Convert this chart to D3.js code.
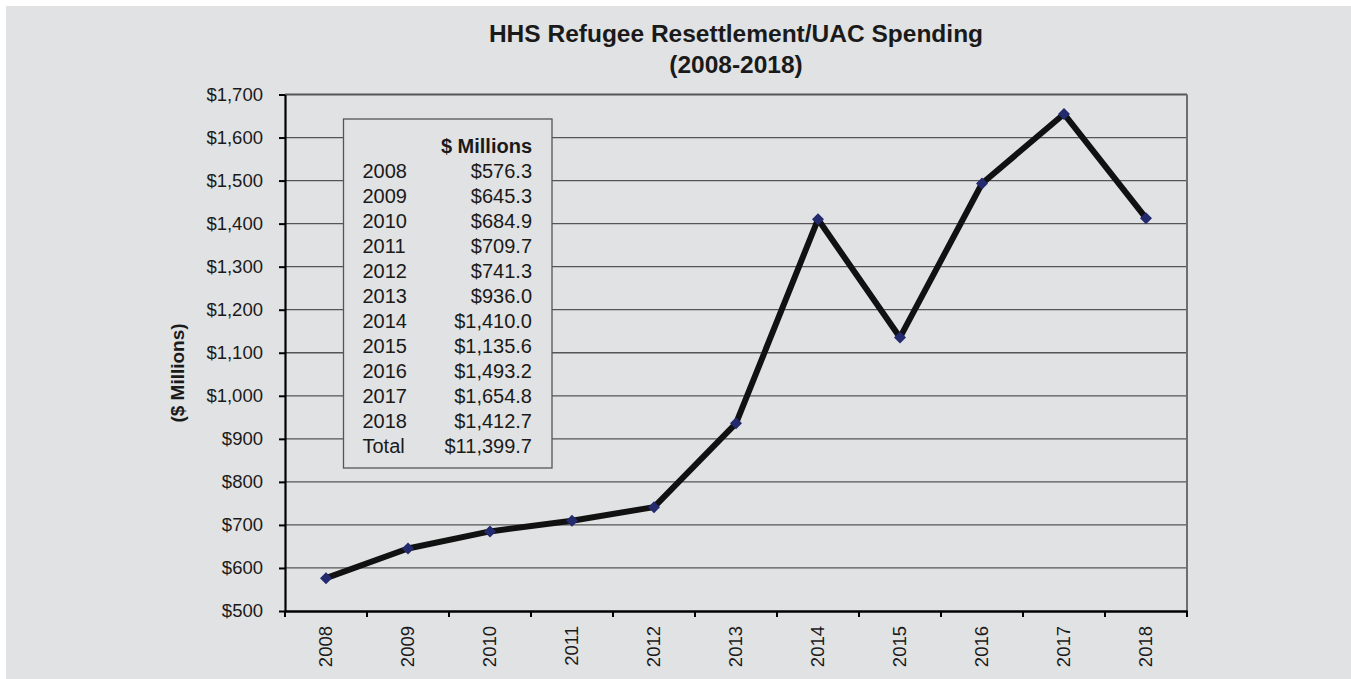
<!DOCTYPE html>
<html>
<head>
<meta charset="utf-8">
<script src="https://cdn.jsdelivr.net/npm/d3@7"></script>
<style>
  body { margin: 0; background: #fff; }
  svg text { font-family: "Liberation Sans", Arial, sans-serif; fill: #1a1a1a; }
</style>
</head>
<body>
<div id="chart"></div>
<script>
var years = ["2008", "2009", "2010", "2011", "2012", "2013", "2014", "2015", "2016", "2017", "2018"];
var spending = [576.3, 645.3, 684.9, 709.7, 741.3, 936.0, 1410.0, 1135.6, 1493.2, 1654.8, 1412.7];
var yTicks = [500, 600, 700, 800, 900, 1000, 1100, 1200, 1300, 1400, 1500, 1600, 1700];
var totalLabel = "Total";
var totalValue = 11399.7;
var tableHeader = "$ Millions";

var width = 1351, height = 679;
var margin = { left: 285, right: 164, top: 94.5, bottom: 68 };

var svg = d3.select("#chart").append("svg")
  .attr("width", width)
  .attr("height", height);

// gray panel, white strip on top and left
svg.append("rect")
  .attr("x", 6).attr("y", 6)
  .attr("width", width - 6).attr("height", height - 6)
  .attr("fill", "#e1e2e3");

var x = d3.scaleBand()
  .domain(years)
  .range([margin.left, width - margin.right]);

var y = d3.scaleLinear()
  .domain([500, 1700])
  .range([height - margin.bottom, margin.top]);

// gridlines
svg.append("g")
  .selectAll("line")
  .data(yTicks.slice(1))
  .enter().append("line")
    .attr("x1", margin.left)
    .attr("x2", width - margin.right)
    .attr("y1", function(d) { return y(d); })
    .attr("y2", function(d) { return y(d); })
    .attr("stroke", "#555")
    .attr("stroke-width", function(d) { return d == 1700 ? 2 : 1.3; });

// right border
svg.append("line")
  .attr("x1", width - margin.right).attr("x2", width - margin.right)
  .attr("y1", y(1700)).attr("y2", y(500))
  .attr("stroke", "#6e6e6e")
  .attr("stroke-width", 2);

// data table box
var box = { x: 343.5, y: 119, w: 208.5, h: 349 };
svg.append("rect")
  .attr("x", box.x).attr("y", box.y)
  .attr("width", box.w).attr("height", box.h)
  .attr("fill", "#e1e2e3")
  .attr("stroke", "#555")
  .attr("stroke-width", 1.3);

var rows = years.map(function(yr, i) { return [yr, spending[i]]; });
rows.push([totalLabel, totalValue]);
var fmtTable = d3.format("$,.1f");

var table = svg.append("g").style("font-size", "20px");
table.append("text")
  .attr("x", 532).attr("y", 153)
  .attr("text-anchor", "end")
  .style("font-weight", "bold")
  .text(tableHeader);
table.selectAll(".yr")
  .data(rows)
  .enter().append("text")
    .attr("class", "yr")
    .attr("x", 362.5)
    .attr("y", function(d, i) { return 178 + i * 25; })
    .text(function(d) { return d[0]; });
table.selectAll(".val")
  .data(rows)
  .enter().append("text")
    .attr("class", "val")
    .attr("x", 532)
    .attr("y", function(d, i) { return 178 + i * 25; })
    .attr("text-anchor", "end")
    .text(function(d) { return fmtTable(d[1]); });

// y axis
var yAxis = svg.append("g")
  .attr("transform", "translate(" + margin.left + ",0)")
  .call(d3.axisLeft(y).tickValues(yTicks).tickSize(6).tickSizeOuter(0).tickPadding(16).tickFormat(d3.format("$,")));
yAxis.select(".domain").attr("stroke", "#000").attr("stroke-width", 2.2);
yAxis.selectAll(".tick line").attr("stroke", "#000").attr("stroke-width", 2);
yAxis.selectAll("text").style("font-size", "18.5px").style("font-family", null);

// x axis
var xAxis = svg.append("g")
  .attr("transform", "translate(0," + y(500) + ")")
  .call(d3.axisBottom(x).tickSize(0).tickSizeOuter(0));
xAxis.select(".domain").attr("stroke", "#000").attr("stroke-width", 2.6);
xAxis.selectAll(".tick text")
  .style("font-size", "18.5px").style("font-family", null)
  .attr("transform", "rotate(-90)")
  .attr("x", -15).attr("y", 0).attr("dy", "0.35em")
  .attr("text-anchor", "end");

var bounds = years.map(function(d) { return x(d); }).concat([x.range()[1]]);
xAxis.selectAll(".bt")
  .data(bounds)
  .enter().append("line")
    .attr("class", "bt")
    .attr("x1", function(d) { return d; })
    .attr("x2", function(d) { return d; })
    .attr("y1", 0).attr("y2", 6)
    .attr("stroke", "#000")
    .attr("stroke-width", 2);

// line
var line = d3.line()
  .x(function(d, i) { return x(years[i]) + x.bandwidth() / 2; })
  .y(function(d) { return y(d); });

svg.append("path")
  .datum(spending)
  .attr("d", line)
  .attr("fill", "none")
  .attr("stroke", "#111")
  .attr("stroke-width", 6)
  .attr("stroke-linejoin", "round");

svg.append("g")
  .selectAll("path")
  .data(spending)
  .enter().append("path")
    .attr("d", d3.symbol().type(d3.symbolSquare).size(72))
    .attr("transform", function(d, i) {
      return "translate(" + (x(years[i]) + x.bandwidth() / 2) + "," + y(d) + ") rotate(45)";
    })
    .attr("fill", "#232a6e");

// titles
var cx = (x.range()[0] + x.range()[1]) / 2;
svg.append("text")
  .attr("x", cx).attr("y", 42)
  .attr("text-anchor", "middle")
  .style("font-size", "24.5px").style("font-weight", "bold")
  .text("HHS Refugee Resettlement/UAC Spending");
svg.append("text")
  .attr("x", cx).attr("y", 73)
  .attr("text-anchor", "middle")
  .style("font-size", "24.5px").style("font-weight", "bold")
  .text("(2008-2018)");

svg.append("text")
  .attr("transform", "translate(177,373) rotate(-90)")
  .attr("dy", "0.35em")
  .attr("text-anchor", "middle")
  .style("font-size", "19px").style("font-weight", "bold")
  .text("($ Millions)");
</script>
</body>
</html>
